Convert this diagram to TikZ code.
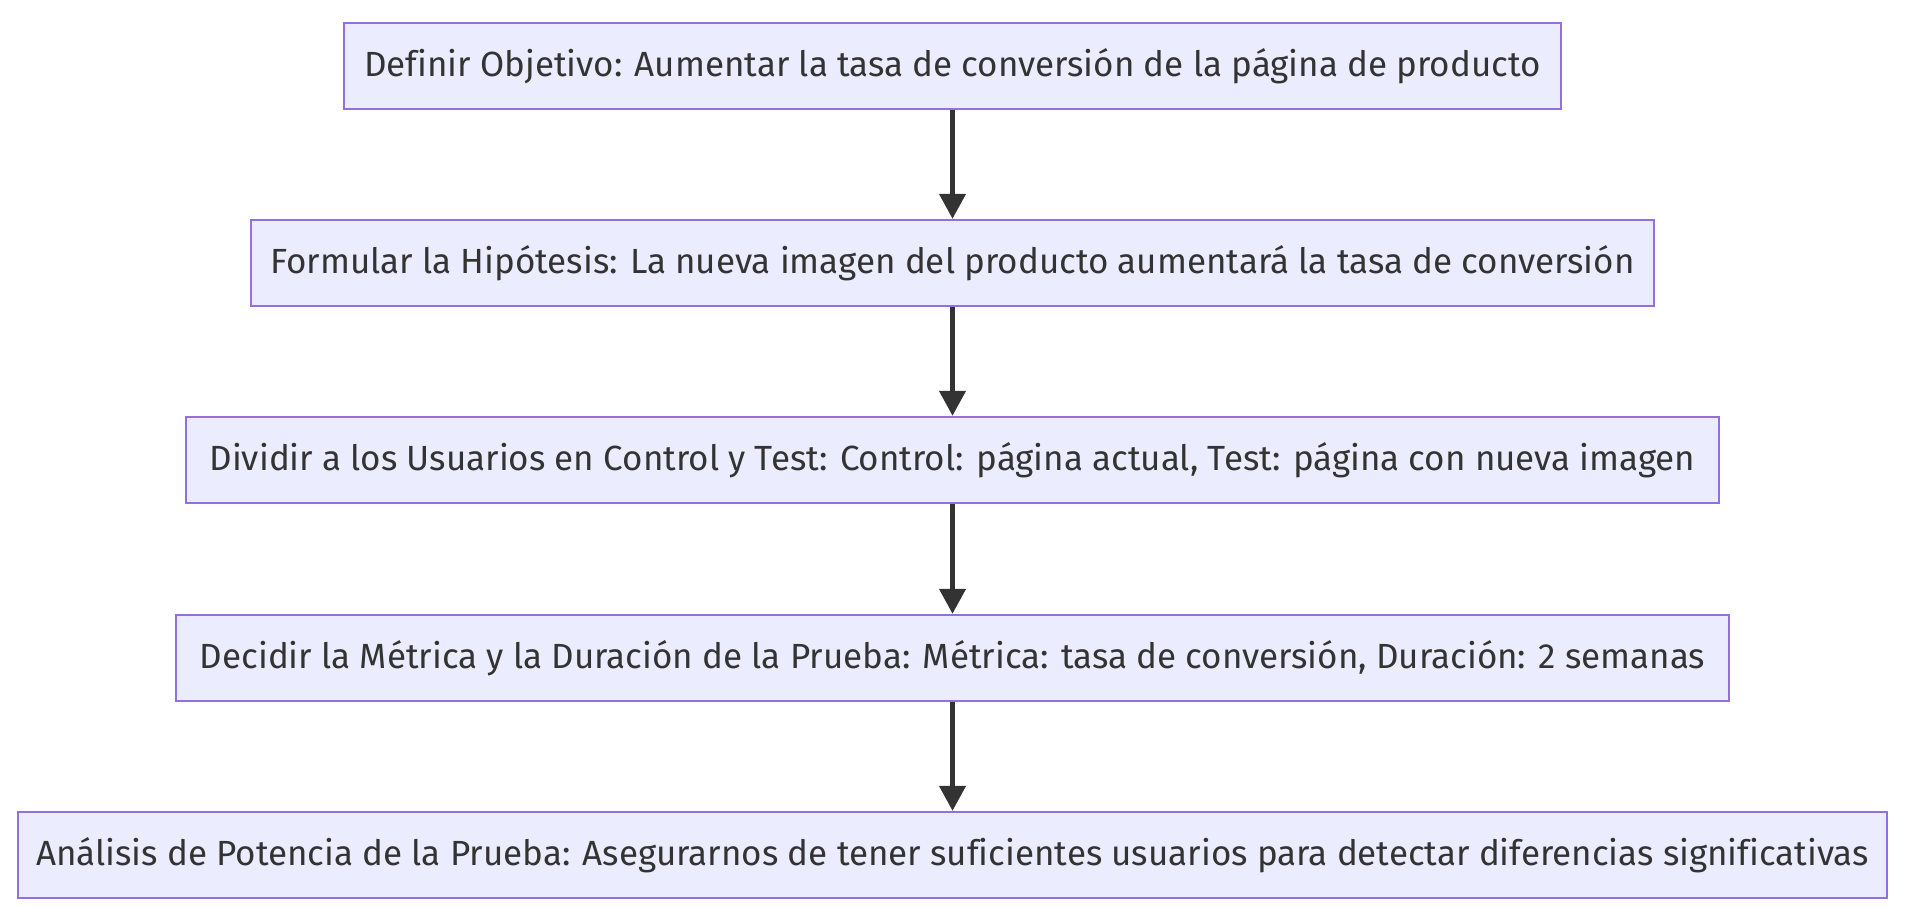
\documentclass[tikz,border=0pt]{standalone}
\usepackage{fontspec}
\setmainfont[Ligatures=NoCommon]{Fira Sans}
\usetikzlibrary{arrows.meta}
\definecolor{boxfill}{HTML}{ECECFF}
\definecolor{boxline}{HTML}{9370DB}
\definecolor{inkgray}{HTML}{333333}

\begin{document}
\begin{tikzpicture}[x=0.02cm, y=0.02cm,
    stepbox/.style={rectangle, draw=boxline, fill=boxfill, line width=0.05cm,
      minimum height=1.72cm, inner xsep=0pt, text=inkgray,
      font=\fontsize{19.9}{23}\selectfont},
    flow/.style={draw=inkgray, line width=0.09cm,
      -{Triangle[length=0.5cm, width=0.52cm]}}]
  \useasboundingbox (0,0) rectangle (1905,-919);
  \node[stepbox, minimum width=24.34cm] (objetivo) at (952.5,-66) {Definir Objetivo: Aumentar la tasa de conversión de la página de producto};
  \node[stepbox, minimum width=28.06cm] (hipotesis) at (952.5,-263) {Formular la Hipótesis: La nueva imagen del producto aumentará la tasa de conversión};
  \node[stepbox, minimum width=30.66cm] (dividir) at (952.5,-460) {Dividir a los Usuarios en Control y Test: Control: página actual, Test: página con nueva imagen};
  \node[stepbox, minimum width=31.06cm] (metrica) at (952.5,-658) {Decidir la Métrica y la Duración de la Prueba: Métrica: tasa de conversión, Duración: 2 semanas};
  \node[stepbox, minimum width=37.38cm] (potencia) at (952.5,-855) {Análisis de Potencia de la Prueba: Asegurarnos de tener suficientes usuarios para detectar diferencias significativas};
  \draw[flow] (objetivo) -- (hipotesis);
  \draw[flow] (hipotesis) -- (dividir);
  \draw[flow] (dividir) -- (metrica);
  \draw[flow] (metrica) -- (potencia);
\end{tikzpicture}
\end{document}
